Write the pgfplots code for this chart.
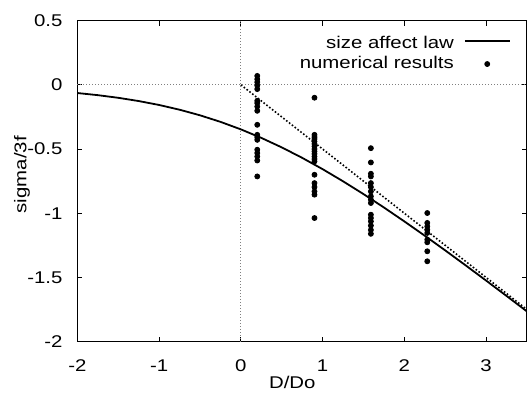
\documentclass[border=0pt]{standalone}
\usepackage{fontspec}
\setmainfont{Liberation Sans}[FakeStretch=1.2]
\usepackage{pgfplots}
\pgfplotsset{compat=1.18}
\pgfplotsset{
  lineleg/.style={legend image code/.code={\draw[##1] (0pt,1.5pt) -- (22.5pt,1.5pt);}},
  markleg/.style={legend image code/.code={\draw[##1] plot coordinates {(11.25pt,0pt)};}},
}
\pgfplotstableread{
x y
0.20 0.070
0.20 0.044
0.20 0.021
0.20 -0.005
0.20 -0.033
0.20 -0.124
0.20 -0.142
0.20 -0.169
0.20 -0.202
0.20 -0.311
0.20 -0.389
0.20 -0.407
0.20 -0.428
0.20 -0.505
0.20 -0.531
0.20 -0.558
0.20 -0.589
0.20 -0.713
0.90 -0.100
0.90 -0.389
0.90 -0.407
0.90 -0.422
0.90 -0.441
0.90 -0.459
0.90 -0.479
0.90 -0.500
0.90 -0.518
0.90 -0.537
0.90 -0.558
0.90 -0.578
0.90 -0.596
0.90 -0.700
0.90 -0.765
0.90 -0.796
0.90 -0.830
0.90 -0.855
0.90 -1.037
1.59 -0.493
1.59 -0.604
1.59 -0.692
1.59 -0.713
1.59 -0.765
1.59 -0.796
1.59 -0.830
1.59 -0.868
1.59 -0.894
1.59 -0.920
1.59 -1.011
1.59 -1.037
1.59 -1.063
1.59 -1.096
1.59 -1.130
1.59 -1.160
2.28 -0.998
2.28 -1.075
2.28 -1.102
2.28 -1.128
2.28 -1.153
2.28 -1.205
2.28 -1.226
2.28 -1.296
2.28 -1.374
}\numres
\begin{document}
\fontsize{8.5}{10}\selectfont
\begin{tikzpicture}
\begin{axis}[
  scale only axis, width=225pt, height=160.65pt,
  xmin=-2, xmax=3.5, ymin=-2, ymax=0.5,
  xtick={-2,-1,0,1,2,3}, ytick={-2,-1.5,-1,-0.5,0,0.5},
  tick align=inside, major tick length=2.5pt,
  axis line style={line width=0.7pt},
  every tick/.style={black, line width=0.5pt},
  /pgf/number format/assume math mode=true,
  xticklabel style={anchor=north, inner sep=0pt, yshift=-9pt},
  yticklabel style={anchor=east, inner sep=0pt, xshift=-7.3pt},
  ylabel={sigma/3f},
  ylabel style={at={(axis description cs:-0.1232,0.52)}, anchor=center},
  xlabel={D/Do},
  xlabel style={at={(axis description cs:0.478,-0.1276)}, anchor=center},
  legend plot pos=right,
  legend cell align=right,
  legend style={draw=none, fill=none, inner sep=0pt, at={(rel axis cs:1,1)}, anchor=north east,
    xshift=-8pt, yshift=-7pt, row sep=1pt, column sep=5pt,
    nodes={inner sep=0pt, text height=6.5pt, text depth=2.5pt}},
  clip=false,
]
\addplot[gray, densely dotted, line width=0.5pt, forget plot] coordinates {(-2,0) (3.5,0)};
\addplot[gray, densely dotted, line width=0.5pt, forget plot] coordinates {(0,-2) (0,0.5)};
\addplot[black, line width=0.9pt, lineleg] coordinates {
(-2,-0.0635) (-1.75,-0.0801) (-1.5,-0.1007) (-1.25,-0.1260) (-1,-0.1566)
(-0.75,-0.1935) (-0.5,-0.2370) (-0.25,-0.2880) (0,-0.3466) (0.25,-0.4130)
(0.5,-0.4870) (0.75,-0.5684) (1,-0.6566) (1.25,-0.7510) (1.5,-0.8507)
(1.75,-0.9551) (2,-1.0635) (2.25,-1.1751) (2.5,-1.2894) (2.75,-1.4059)
(3,-1.5243) (3.25,-1.6440) (3.5,-1.7648)};
\addlegendentry{size affect law}
\addplot[black, densely dotted, line width=0.8pt, forget plot] coordinates {(0,0) (3.5,-1.75)};
\addplot[only marks, mark=*, mark size=1.25pt, black, markleg] table[x=x,y=y] {\numres};
\addlegendentry{numerical results}
\coordinate (bl) at (rel axis cs:0,0);
\coordinate (tr) at (rel axis cs:1,1);
\end{axis}
\pgfresetboundingbox
\path ([shift={(-38.75pt,-27pt)}]bl) rectangle ([shift={(0pt,10.35pt)}]tr);
\end{tikzpicture}
\end{document}
